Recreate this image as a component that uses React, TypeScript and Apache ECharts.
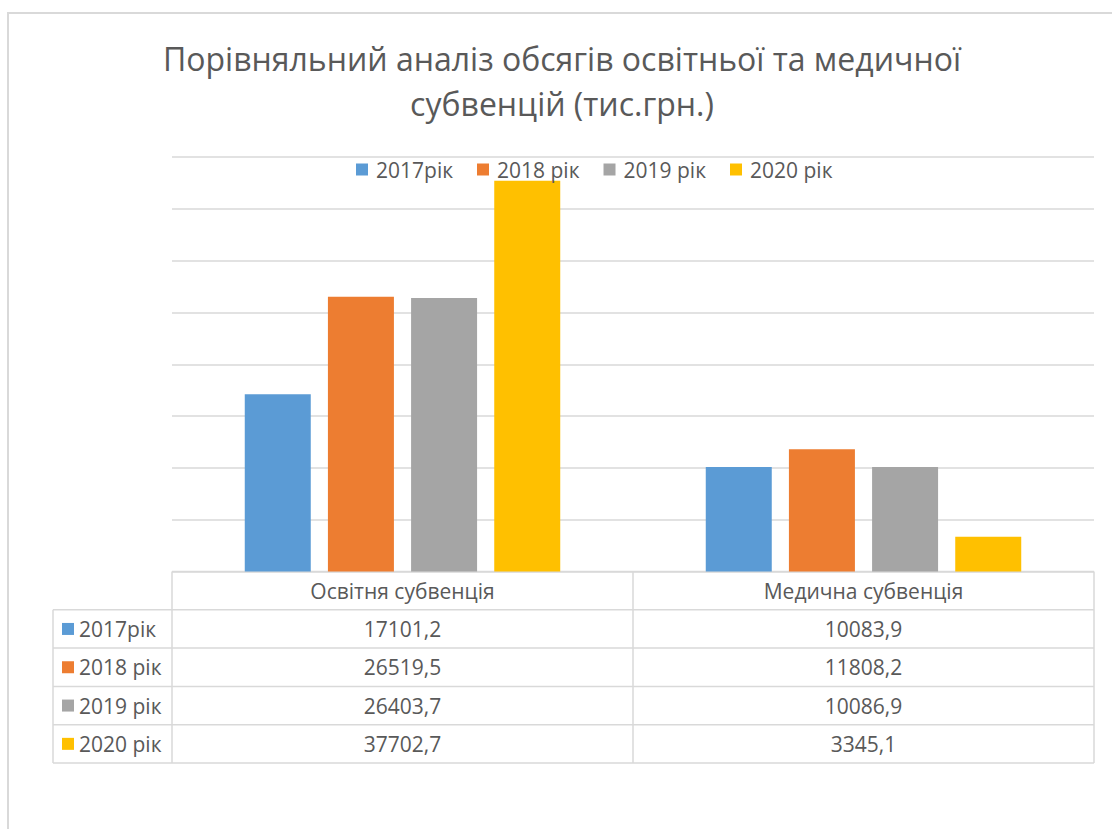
import React, { useEffect, useRef } from "react";
import * as echarts from "echarts";

const categories = ["Освітня субвенція", "Медична субвенція"];
const seriesNames = ["2017рік", "2018 рік", "2019 рік", "2020 рік"];
const values2017 = [17101.2, 10083.9];
const values2018 = [26519.5, 11808.2];
const values2019 = [26403.7, 10086.9];
const values2020 = [37702.7, 3345.1];
const seriesValues = [values2017, values2018, values2019, values2020];
const colors = ["#5B9BD5", "#ED7D31", "#A5A5A5", "#FFC000"];
const titleLines = [
  "Порівняльний аналіз обсягів освітньої та медичної",
  "субвенцій (тис.грн.)",
];

const FONT = "'Open Sans', 'Noto Sans', sans-serif";
const TEXT = "#595959";
const LINE = "#d9d9d9";

const W = 1112;
const H = 829;
const GRID_L = 172;
const GRID_R = 1094;
const GRID_T = 157;
const GRID_B = 571.5;
const TABLE_L = 53;
const ROW_H = 38.3;

function fmt(v: number): string {
  return v.toFixed(1).replace(".", ",");
}

export default function App() {
  const ref = useRef<HTMLDivElement>(null);
  useEffect(() => {
    if (!ref.current) return;
    const chart = echarts.init(ref.current, null, { renderer: "svg" });

    const nCat = categories.length;
    const colW = (GRID_R - GRID_L) / nCat;
    const tableBottom = GRID_B + ROW_H * (seriesNames.length + 1);
    const graphics: any[] = [];

    // outer frame
    graphics.push({
      type: "rect",
      shape: { x: 8, y: 13, width: 1200, height: 900 },
      style: { fill: "none", stroke: LINE, lineWidth: 2 },
      silent: true,
    });

    // table horizontal lines
    for (let r = 0; r <= seriesNames.length + 1; r++) {
      const y = GRID_B + r * ROW_H;
      graphics.push({
        type: "line",
        shape: { x1: r === 0 ? GRID_L : TABLE_L, y1: y, x2: GRID_R, y2: y },
        style: { stroke: LINE, lineWidth: 1.5 },
        silent: true,
      });
    }
    // vertical lines
    graphics.push({
      type: "line",
      shape: { x1: TABLE_L, y1: GRID_B + ROW_H, x2: TABLE_L, y2: tableBottom },
      style: { stroke: LINE, lineWidth: 1.5 },
      silent: true,
    });
    for (let c = 0; c <= nCat; c++) {
      const x = GRID_L + c * colW;
      graphics.push({
        type: "line",
        shape: { x1: x, y1: GRID_B, x2: x, y2: tableBottom },
        style: { stroke: LINE, lineWidth: 1.5 },
        silent: true,
      });
    }
    // header texts
    categories.forEach((cat, c) => {
      graphics.push({
        type: "text",
        x: GRID_L + (c + 0.5) * colW,
        y: GRID_B + ROW_H / 2,
        style: {
          text: cat,
          fill: TEXT,
          font: `21px ${FONT}`,
          align: "center",
          verticalAlign: "middle",
        },
        silent: true,
      });
    });
    // rows
    seriesNames.forEach((name, r) => {
      const yMid = GRID_B + (r + 1.5) * ROW_H;
      graphics.push({
        type: "rect",
        shape: { x: 62, y: yMid - 6, width: 12, height: 12 },
        style: { fill: colors[r] },
        silent: true,
      });
      graphics.push({
        type: "text",
        x: 79,
        y: yMid,
        style: {
          text: name,
          fill: TEXT,
          font: `21px ${FONT}`,
          align: "left",
          verticalAlign: "middle",
        },
        silent: true,
      });
      seriesValues[r].forEach((v, c) => {
        graphics.push({
          type: "text",
          x: GRID_L + (c + 0.5) * colW,
          y: yMid,
          style: {
            text: fmt(v),
            fill: TEXT,
            font: `21px ${FONT}`,
            align: "center",
            verticalAlign: "middle",
          },
          silent: true,
        });
      });
    });

    chart.setOption({
      animation: false,
      backgroundColor: "#ffffff",
      textStyle: { fontFamily: FONT },
      title: {
        text: titleLines.join("\n"),
        left: 557,
        top: 31,
        textAlign: "center",
        textStyle: {
          fontFamily: FONT,
          fontSize: 32,
          fontWeight: "normal",
          color: TEXT,
          lineHeight: 45,
        },
      },
      legend: {
        data: seriesNames,
        left: 351,
        top: 154,
        icon: "rect",
        itemWidth: 12,
        itemHeight: 12,
        itemGap: 24,
        textStyle: { fontFamily: FONT, fontSize: 21, color: TEXT, padding: [0, 0, 0, 3] },
      },
      grid: {
        left: GRID_L,
        right: W - GRID_R,
        top: GRID_T,
        bottom: H - GRID_B,
        containLabel: false,
      },
      xAxis: {
        type: "category",
        data: categories,
        axisLine: { show: false },
        axisTick: { show: false },
        axisLabel: { show: false },
      },
      yAxis: {
        type: "value",
        min: 0,
        max: 40000,
        interval: 5000,
        axisLine: { show: false },
        axisTick: { show: false },
        axisLabel: { show: false },
        splitLine: { lineStyle: { color: LINE, width: 1.5 } },
      },
      series: seriesNames.map((name, i) => ({
        name,
        type: "bar",
        data: seriesValues[i],
        barWidth: 66,
        barGap: "26%",
        itemStyle: { color: colors[i] },
      })),
      graphic: graphics,
    });

    return () => chart.dispose();
  }, []);

  return (
    <div
      ref={ref}
      style={{ position: "fixed", left: 0, top: 0, width: W, height: H }}
    />
  );
}
